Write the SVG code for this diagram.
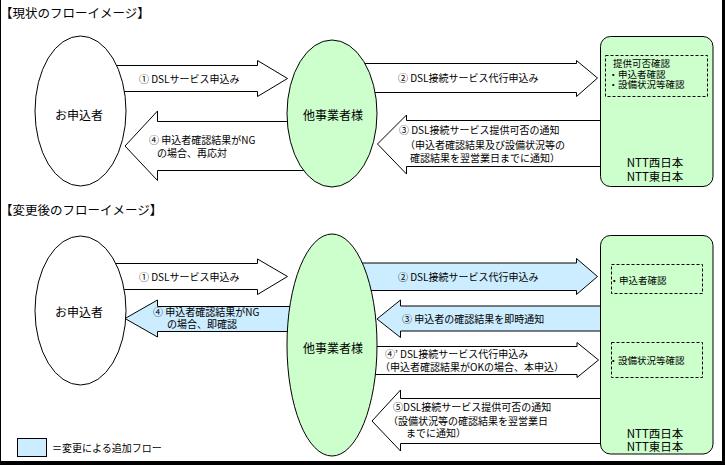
<svg xmlns="http://www.w3.org/2000/svg" width="725" height="465" viewBox="0 0 725 465">
<style>
text{font-family:"Noto Sans CJK JP","Noto Sans CJK SC",sans-serif;fill:#000}
.t{font-size:10px}
.n{font-size:12px;text-anchor:middle}
.s{font-size:11.5px;text-anchor:middle}
.h{font-size:12.5px}
.b{font-size:9.5px}
.aw{fill:#fff;stroke:#000;stroke-width:1}
.ab{fill:#ccecff;stroke:#000;stroke-width:1}
.g{fill:#ccffcc;stroke:#000;stroke-width:1}
.w{fill:#fff;stroke:#000;stroke-width:1}
.d{fill:none;stroke:#000;stroke-width:1;stroke-dasharray:3,2}
</style>
<rect x="0" y="0" width="725" height="465" fill="#fff"/>
<line x1="0.5" y1="0" x2="0.5" y2="462" stroke="#000"/>
<rect x="722" y="0" width="3" height="465" fill="#000"/>
<rect x="0" y="461" width="725" height="4" fill="#000"/>

<text class="h" x="0" y="18">【現状のフローイメージ】</text>
<text class="h" x="0" y="215">【変更後のフローイメージ】</text>

<g id="connectors">
  <polygon class="aw" points="100,65.5 257.5,65.5 257.5,60.5 287.5,78.5 257.5,96.5 257.5,91.5 100,91.5"/>
  <text class="t" x="139" y="82.5">① DSLサービス申込み</text>
  <polygon class="aw" points="340,63.5 576.5,63.5 576.5,60.5 597.5,78 576.5,96.5 576.5,92.5 340,92.5"/>
  <text class="t" x="398" y="81.5">② DSL接続サービス代行申込み</text>
  <polygon class="aw" points="610,120.5 406.5,120.5 406.5,115 377.5,144 406.5,174 406.5,166.5 610,166.5"/>
  <text class="t" x="399" y="134">③ DSL接続サービス提供可否の通知</text>
  <text class="t" x="405" y="148.5">（申込者確認結果及び設備状況等の</text>
  <text class="t" x="410" y="162">確認結果を翌営業日までに通知）</text>
  <polygon class="aw" points="330,121.5 157.5,121.5 157.5,111 125,146 157.5,180.5 157.5,170.5 330,170.5"/>
  <text class="t" x="149" y="144">④ 申込者確認結果がNG</text>
  <text class="t" x="157" y="157">の場合、再応対</text>

  <polygon class="aw" points="100,263.5 257.5,263.5 257.5,259 287.5,276.5 257.5,294.5 257.5,289.5 100,289.5"/>
  <text class="t" x="139" y="280.5">① DSLサービス申込み</text>
  <polygon class="ab" points="330,306.5 157.5,306.5 157.5,300 125,318.5 157.5,337 157.5,331.5 330,331.5"/>
  <text class="t" x="153" y="316">④ 申込者確認結果がNG</text>
  <text class="t" x="167" y="328">の場合、即確認</text>
  <polygon class="ab" points="340,263 576.5,263 576.5,258.5 597.5,276.5 576.5,294.5 576.5,290.5 340,290.5"/>
  <text class="t" x="398" y="280.5">② DSL接続サービス代行申込み</text>
  <polygon class="ab" points="610,306 400.5,306 400.5,300 377,319 400.5,337.5 400.5,331 610,331"/>
  <text class="t" x="402" y="322.5">③ 申込者の確認結果を即時通知</text>
  <polygon class="aw" points="340,346.5 577,346.5 577,342.5 598.5,360 577,377.5 577,374.5 340,374.5"/>
  <text class="t" x="385" y="357.5">④’ DSL接続サービス代行申込み</text>
  <text class="t" x="380" y="371">（申込者確認結果がOKの場合、本申込）</text>
  <polygon class="aw" points="610,398.5 400.5,398.5 400.5,390 372,421 400.5,451 400.5,443.5 610,443.5"/>
  <text class="t" x="393" y="411">⑤DSL接続サービス提供可否の通知</text>
  <text class="t" x="388" y="424.5">（設備状況等の確認結果を翌営業日</text>
  <text class="t" x="406" y="436.5">までに通知）</text>
</g>

<g id="applicant-before">
  <ellipse class="w" cx="80.5" cy="111" rx="45.5" ry="75"/>
  <text class="n" x="79" y="119.5">お申込者</text>
</g>
<g id="operator-before">
  <ellipse class="g" cx="332" cy="113.5" rx="45" ry="73.5"/>
  <text class="n" x="333" y="120">他事業者様</text>
</g>
<g id="ntt-before">
  <rect class="g" x="600.5" y="36.5" width="112.5" height="150" rx="10"/>
  <rect class="d" x="605.5" y="55.5" width="102" height="41"/>
  <text class="b" x="613" y="67">提供可否確認</text>
  <text class="b" x="608.5" y="77.5">・申込者確認</text>
  <text class="b" x="608.5" y="88">・設備状況等確認</text>
  <text class="s" x="655" y="167">NTT西日本</text>
  <text class="s" x="655" y="180.5">NTT東日本</text>
</g>

<g id="applicant-after">
  <ellipse class="w" cx="80.5" cy="310.5" rx="45.5" ry="74.5"/>
  <text class="n" x="79" y="316.5">お申込者</text>
</g>
<g id="operator-after">
  <ellipse class="g" cx="332" cy="345" rx="45" ry="111"/>
  <text class="n" x="333" y="353">他事業者様</text>
</g>
<g id="ntt-after">
  <rect class="g" x="600.5" y="235.5" width="112.5" height="218.5" rx="10"/>
  <rect class="d" x="611.5" y="264.5" width="91" height="29"/>
  <text class="b" x="609.5" y="283.5">・申込者確認</text>
  <rect class="d" x="611.5" y="342.5" width="91" height="35"/>
  <text class="b" x="608.5" y="363.5">・設備状況等確認</text>
  <text class="s" x="655" y="437.5">NTT西日本</text>
  <text class="s" x="655" y="451">NTT東日本</text>
</g>

<g id="legend">
  <rect class="ab" x="17.5" y="438.5" width="29" height="18"/>
  <text class="t" x="52" y="451.5">＝変更による追加フロー</text>
</g>
</svg>
